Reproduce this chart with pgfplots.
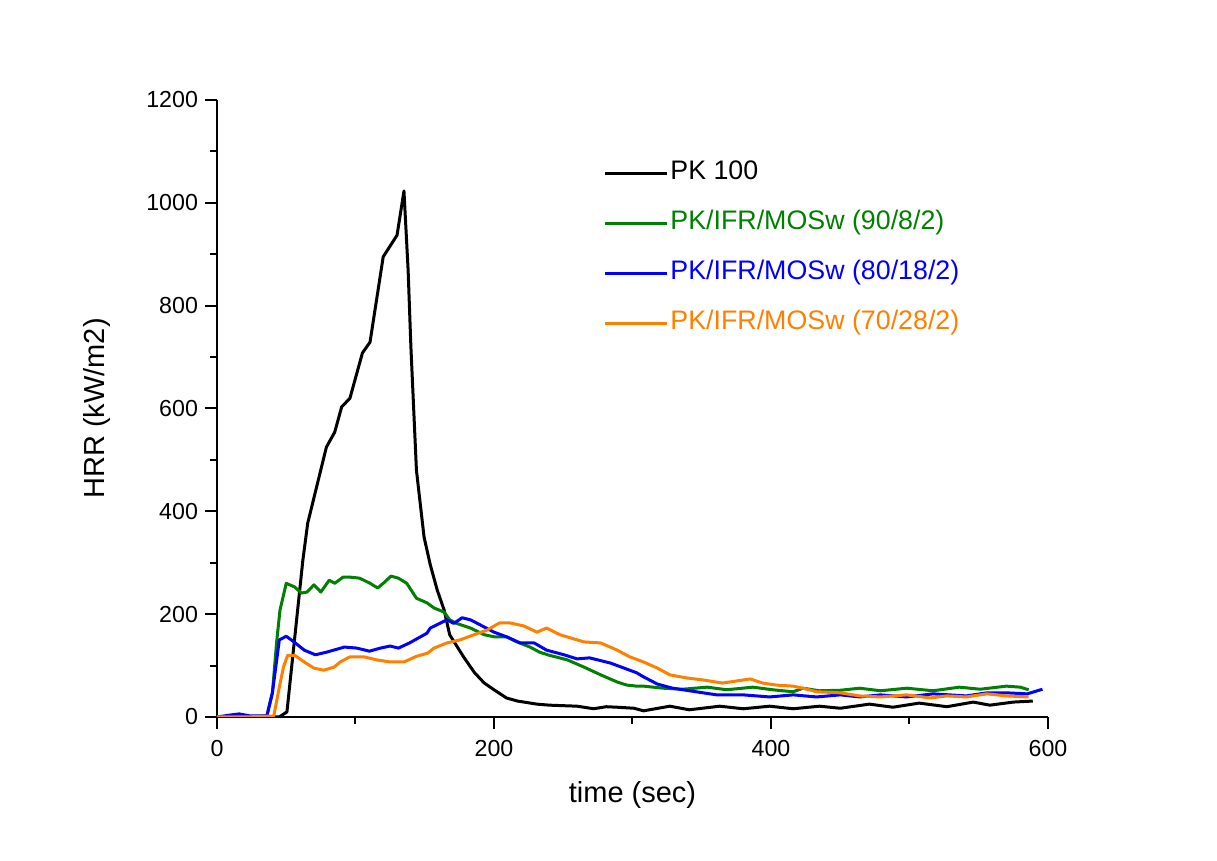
\documentclass[border=0pt]{standalone}
\usepackage{fontspec}
\setmainfont{Liberation Sans}
\usepackage{pgfplots}
\usepackage{pgfplotstable}
\pgfplotsset{compat=1.18}
\definecolor{cgreen}{RGB}{0,128,0}
\definecolor{cblue}{RGB}{0,0,255}
\definecolor{corange}{RGB}{255,128,0}

\pgfplotstableread{
t hrr
0 0
10 0
20 0
30 0
40 0
45 0
50.5 10
62 305
65.5 377
79 525
85 554
90 603
96 620
105 708
110.5 729
120 895
130 937
135 1023
138 869
140 720
144 480
149.5 350
154 296
159 247
164 208
168 160
178 117
186 86
193 66
200 53
209 37
217 31
231 25
240 23
260 21
272 16
281 20
289 19
301 17
308 12
327 21
341 14
363 21
380 16
399 21
416 16
435 21
450 17
471 25
488 19
507 27
527 20
546 29
558 23
575 29
589 31
}\pkblack

\pgfplotstableread{
t hrr
0 0
20 0
36 2
40 47
43 144
45.5 208
50 260
56 253
61 241
65 243
70 257
75 243
81 266
85 260
91 272
96 272
103 270
110.5 260
116 251
120.5 261
125.6 274
131 270
137 260
144 231
151.6 222
156.7 212
164 204
168 189
173 182
183 173
193 160
200 156
209 156
216.6 146
226 136
233 126
240 120
253 111
265 97
277 82
289 68
296 62
303 60
308 60
322 56
336 54
354 58
368 53
387 58
401 53
416 49
423 56
435 51
450 52
464 56
479 51
498 56
517 51
536 58
551 54
570 60
580 58
586 53
}\pkgreen

\pgfplotstableread{
t hrr
0 0
10 4
16 6
24 2
36 2
40 47
45 150
50 157
55.6 146
63 130
71 121
79 126
92 136
101 134
110 128
118 134
125 138
131 134
139 144
151.6 163
154 173
166 189
171 182
177 193
183 189
193 175
200 165
209 156
219 144
229 144
238 130
250.5 121
260 113
269 115
284 105
294 95
303 86
308 78
318 64
329 56
346 49
361 43
380 43
399 39
416 43
433 39
450 43
464 39
479 43
498 39
517 45
529 43
541 41
556 47
570 47
585 45
596 54
}\pkblue

\pgfplotstableread{
t hrr
0 0
20 0
41 2
45 58
48 97
51 120
56 120
63 107
70 95
77 91
84.5 97
89 107
96 117
106 117
115.5 111
125 107
135 107
144 118
152 124
156.7 134
166 144
175.5 150
185.6 160
195 169
204 183
211.5 183
221.6 177
231 165
238 173
247.6 160
255 154
265 146
277 144
289 130
298 117
308 107
318 95
327 82
339 76
351 72
365 66
375 70
385 74
394 66
404 62
416 60
423 56
433 49
450 47
464 41
479 39
498 43
515 37
527 41
541 39
556 45
570 41
586 39
}\pkorange

\begin{document}
\begin{tikzpicture}
\useasboundingbox (-108.5pt,-72pt) rectangle (500pt,358.5pt);
\begin{axis}[
  at={(0pt,0pt)}, anchor=south west,
  scale only axis, width=415.5pt, height=308.5pt,
  xmin=0, xmax=600, ymin=0, ymax=1200,
  axis x line*=bottom, axis y line*=left,
  axis line style={line width=1.2pt},
  xtick={0,200,400,600}, ytick={0,200,...,1200},
  minor xtick={100,300,500}, minor ytick={100,300,...,1100},
  tick align=outside,
  major tick length=6pt, minor tick length=3.5pt,
  every tick/.style={line width=1pt, black},
  /pgf/number format/assume math mode=true,
  /pgf/number format/1000 sep={},
  scaled ticks=false,
  tick label style={font=\fontsize{11.6}{13}\selectfont},
  xticklabel style={yshift=-2pt},
  xlabel={time (sec)}, ylabel={HRR (kW/m2)},
  label style={font=\fontsize{14.5}{17}\selectfont},
  xlabel style={at={(rel axis cs:0.5,-0.1264)}, anchor=center},
  ylabel style={at={(rel axis cs:-0.1444,0.5)}, anchor=center},
  legend image code/.code={\draw[#1] (0pt,0pt) -- (31pt,0pt);},
  legend style={at={(rel axis cs:0.4645,0.9068)}, anchor=north west,
    draw=none, fill=none, inner sep=0pt, row sep=9.5pt,
    font=\fontsize{13.4}{15}\selectfont,
    nodes={inner sep=1pt, text height=10pt, text depth=3.5pt},
    cells={anchor=west}},
  every axis plot/.append style={line join=round},
]
\addplot[black, line width=1.5pt] table[x=t,y=hrr] {\pkblack};
\addlegendentry{PK 100}
\addplot[cgreen, line width=1.5pt] table[x=t,y=hrr] {\pkgreen};
\addlegendentry{\textcolor{cgreen}{PK/IFR/MOSw (90/8/2)}}
\addplot[cblue, line width=1.5pt] table[x=t,y=hrr] {\pkblue};
\addlegendentry{\textcolor{cblue}{PK/IFR/MOSw (80/18/2)}}
\addplot[corange, line width=1.5pt] table[x=t,y=hrr] {\pkorange};
\addlegendentry{\textcolor{corange}{PK/IFR/MOSw (70/28/2)}}
\end{axis}
\end{tikzpicture}
\end{document}
